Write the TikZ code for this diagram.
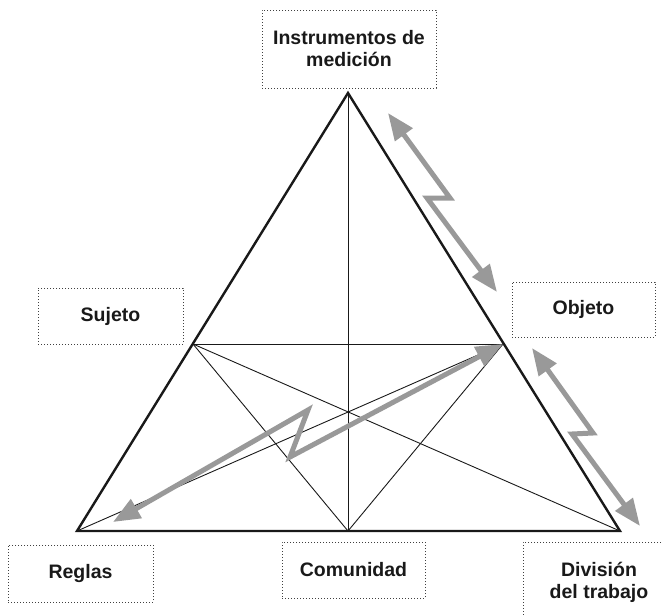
\documentclass[tikz,border=0pt]{standalone}
\usepackage{fontspec}
\setmainfont{Liberation Sans}
\usetikzlibrary{arrows.meta}

\begin{document}
\begin{tikzpicture}[x=1pt, y=-1pt,
  cornerbox/.style={draw=black!75, dash pattern=on 1pt off 2pt, line width=1pt, rectangle, align=center, text=black!90, font=\fontsize{19.5}{22}\selectfont\bfseries},
  outer/.style={draw=black!90, line width=2.4pt, line join=miter},
  inner/.style={draw=black!90, line width=0.9pt},
  flow/.style={draw=black!40, line width=5pt, line join=miter, {Triangle[length=27pt,width=21pt]}-{Triangle[length=27pt,width=21pt]}}]

\useasboundingbox (0,0) rectangle (662,616);

% corners of the triangle
\coordinate (top) at (348,93);
\coordinate (bl) at (77,531);
\coordinate (br) at (620,531);
\coordinate (bm) at (348,531);
\coordinate (sl) at (193,344);
\coordinate (sr) at (503,344);

% labels
\node (instr) [cornerbox, minimum width=174pt, minimum height=78pt] at (349,49) {Instrumentos de\\medición};
\node (suj) [cornerbox, minimum width=145pt, minimum height=56pt] at (110.5,316) {Sujeto};
\node (obj) [cornerbox, minimum width=143pt, minimum height=55pt] at (583.5,309.5) {Objeto};
\node (regl) [cornerbox, minimum width=145pt, minimum height=57pt] at (80.5,573.5) {Reglas};
\node (com) [cornerbox, minimum width=143pt, minimum height=56pt] at (353.5,570) {Comunidad};
\node (div) [cornerbox, minimum width=152pt, minimum height=80pt] at (599,582) {División\\del trabajo};

% inner lines
\draw[inner] (top) -- (bm);
\draw[inner] (sl) -- (sr);
\draw[inner] (sl) -- (bm);
\draw[inner] (sl) -- (br);
\draw[inner] (sr) -- (bm);
\draw[inner] (sr) -- (bl);

% outer triangle
\draw[outer] (top) -- (br) -- (bl) -- cycle;

% grey arrows
\coordinate (a1) at (388,113);
\coordinate (a2) at (497,292);
\coordinate (b1) at (532,348);
\coordinate (b2) at (640,526);
\coordinate (c2) at (113,522);

\draw[flow] (a1) -- (450,198) -- (427,198) -- (a2);
\draw[flow] (b1) -- (593,433) -- (572,434) -- (b2);
\draw[flow] (sr) -- (290,457) -- (308,410) -- (c2);

\end{tikzpicture}
\end{document}
